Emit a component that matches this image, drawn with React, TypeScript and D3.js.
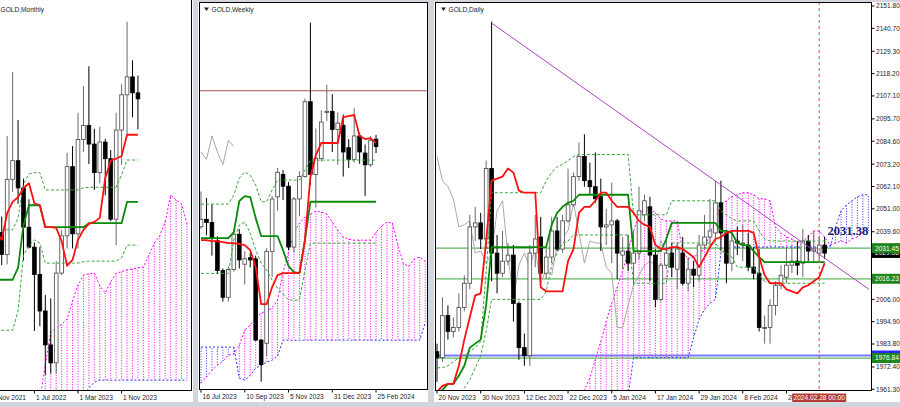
import React, { useEffect, useRef } from "react";
import * as d3 from "d3";

// ================= MONTHLY (bar 0 = Dec 2021) =================
const monthlyOHLC: number[][] = [
  [1774, 1831, 1753, 1829], [1829, 1853, 1780, 1796], [1796, 1974, 1781, 1909], [1909, 2070, 1890, 1937],
  [1937, 1998, 1872, 1896], [1896, 1910, 1787, 1837], [1837, 1879, 1805, 1807], [1807, 1814, 1681, 1766],
  [1766, 1807, 1688, 1711], [1711, 1735, 1615, 1660], [1660, 1730, 1617, 1633], [1633, 1786, 1617, 1768],
  [1768, 1833, 1765, 1824], [1824, 1949, 1805, 1928], [1928, 1959, 1805, 1827], [1827, 2009, 1805, 1969],
  [1969, 2049, 1950, 1990], [1990, 2079, 1932, 1962], [1962, 1985, 1893, 1919], [1919, 1988, 1903, 1965],
  [1965, 1970, 1885, 1940], [1940, 1953, 1846, 1849], [1849, 2009, 1810, 1983], [1983, 2052, 1931, 2036],
  [2036, 2146, 1973, 2063], [2063, 2088, 2002, 2039], [2039, 2065, 1984, 2030],
];
const monthlyTenkan = [1830, 1818, 1858, 1875, 1882, 1896, 1903, 1873, 1870, 1837, 1837, 1836, 1816, 1779,
  1788, 1818, 1833, 1842, 1845, 1851, 1911, 1937, 1940, 1944, 1976, 1976, 1976];
const monthlyKijun = [1758, 1758, 1758, 1758, 1776, 1840, 1870, 1870, 1870, 1837, 1837, 1837, 1837, 1837,
  1837, 1837, 1837, 1843, 1843, 1843, 1843, 1843, 1843, 1843, 1875, 1875, 1875];
const monthlyBandUp = [1833, 1833, 1833, 1833, 1851, 1902, 1917, 1919, 1919, 1893, 1893, 1893, 1893, 1893,
  1893, 1893, 1896, 1897, 1897, 1897, 1897, 1897, 1897, 1916, 1938, 1938, 1938];
const monthlyBandDown = [1682, 1682, 1682, 1682, 1711, 1795, 1809, 1818, 1813, 1783, 1783, 1783, 1783, 1783,
  1783, 1783, 1785, 1786, 1786, 1786, 1786, 1786, 1786, 1791, 1810, 1810, 1810];
const monthlyCloudStart = 8;
const monthlySpanA = [1577, 1630, 1679, 1685, 1691, 1699, 1726, 1750, 1765, 1767, 1768, 1749, 1738, 1755,
  1768, 1770, 1773, 1774, 1776, 1777, 1795, 1813, 1824, 1845, 1885, 1878, 1872, 1842];
const monthlySpanB = [1560, 1562, 1565, 1568, 1570, 1573, 1576, 1580, 1585, 1595, 1604, 1607, 1607, 1607,
  1607, 1607, 1607, 1607, 1607, 1607, 1607, 1607, 1607, 1607, 1607, 1607, 1607, 1607];
const monthlyTickBars = [-1, 7, 15, 23];
const monthlyTickLabels = ["1 Nov 2021", "1 Jul 2022", "1 Mar 2023", "1 Nov 2023"];

// ================= WEEKLY (bar 0 = 16 Jul 2023) =================
const weeklyOHLC: number[][] = [
  [1955, 1988, 1953, 1962], [1962, 1982, 1947, 1959], [1959, 1976, 1928, 1944], [1942, 1946, 1911, 1914],
  [1914, 1916, 1885, 1889], [1889, 1918, 1885, 1915], [1915, 1953, 1913, 1948], [1948, 1953, 1916, 1924],
  [1920, 1932, 1901, 1925], [1926, 1931, 1917, 1924], [1925, 1928, 1848, 1849], [1849, 1850, 1810, 1826],
  [1846, 1935, 1834, 1932], [1932, 1984, 1908, 1981], [1983, 2010, 1970, 2006], [2004, 2008, 1980, 1993],
  [1993, 1997, 1933, 1936], [1936, 1983, 1931, 1981], [1981, 2007, 1965, 2002], [2002, 2075, 2001, 2072],
  [2072, 2146, 1994, 2004], [2004, 2047, 1973, 2019], [2019, 2064, 2016, 2053], [2062, 2088, 2054, 2063],
  [2063, 2079, 2025, 2046], [2046, 2062, 2013, 2052], [2050, 2060, 2002, 2025], [2029, 2037, 2010, 2018],
  [2018, 2066, 2015, 2040], [2040, 2043, 2014, 2025], [2024, 2032, 1984, 2013], [2013, 2040, 2011, 2036],
  [2037, 2041, 2024, 2030],
];
const weeklyTenkan = [1942.5, 1942.5, 1941.6, 1941.6, 1940.7, 1939.7, 1939.7, 1938.8, 1937.9, 1933.2, 1917.3,
  1882.6, 1882.6, 1898.5, 1909.8, 1911.6, 1911.6, 1911.6, 1911.6, 1942.5, 2001.5, 2022.1, 2033.4, 2033.4,
  2033.4, 2033.4, 2057.7, 2058.6, 2059.6, 2039.9, 2037.1, 2038, 2033.4];
const weeklyKijun = [1944.4, 1944.4, 1944.4, 1944.4, 1944.4, 1944.4, 1950, 1979.1, 1983.7, 1982.8, 1963.1,
  1946.3, 1946.3, 1946.3, 1946.3, 1933.2, 1918.2, 1912.6, 1911.6, 1942.5, 1978.4, 1978.4, 1978.4, 1978.4,
  1978.4, 1978.4, 1978.4, 1978.4, 1978.4, 1978.4, 1978.4, 1978.4, 1978.4];
const weeklyBandUp = [1976.2, 1976.2, 1976.2, 1976.2, 1976.2, 1976.2, 1984.7, 2000.6, 2006.2, 2003.4, 1994,
  1978.4, 1978.4, 1989.4, 1998.7, 1998.7, 1998.7, 1998.7, 1998.7, 2008.1, 2017.4, 2017.4, 2017.4, 2017.4,
  2017.4, 2017.4, 2017.4, 2017.4, 2017.4, 2017.4, 2017.4, 2017.4, 2017.4];
const weeklyBandDown = [1911.4, 1911.4, 1911.4, 1911.4, 1911.4, 1911.4, 1942.5, 1956.6, 1959.4, 1949.1, 1933.2,
  1921, 1914.5, 1905.1, 1897.6, 1892, 1886.4, 1886.4, 1886.4, 1914.5, 1939.7, 1939.7, 1939.7, 1939.7,
  1939.7, 1939.7, 1939.7, 1939.7, 1939.7, 1939.7, 1939.7, 1939.7, 1939.7];
const weeklyCloudStart = 0;
const weeklySpanA = [1808.6, 1814.3, 1820.8, 1825.5, 1829.2, 1834.9, 1835.8, 1844.2, 1858.3, 1863, 1869.5,
  1874.2, 1876.1, 1878.9, 1886.4, 1912.6, 1931.3, 1949.1, 1958.5, 1964.1, 1966.9, 1969.7, 1968.8, 1966.9,
  1959.4, 1951.9, 1945.3, 1943.5, 1942.5, 1942.5, 1942.5, 1942.5, 1950, 1955.6, 1959.4, 1958.5, 1937.9,
  1920.1, 1918.2, 1924.8, 1926.6, 1922.9];
const weeklySpanB = [1842.4, 1842.4, 1842.4, 1842.4, 1842.4, 1842.4, 1842.4, 1813.3, 1811.5, 1816.1, 1822.7,
  1825.5, 1828.3, 1830.2, 1833.9, 1848.9, 1848.9, 1848.9, 1848.9, 1848.9, 1848.9, 1848.9, 1848.9, 1848.9,
  1848.9, 1848.9, 1848.9, 1848.9, 1848.9, 1848.9, 1848.9, 1848.9, 1848.9, 1848.9, 1848.9, 1848.9, 1848.9,
  1848.9, 1848.9, 1848.9, 1848.9, 1865.8];
const weeklyLevels = [2082.3];
const weeklyTickBars = [0, 8, 16, 24, 32];
const weeklyTickLabels = ["16 Jul 2023", "10 Sep 2023", "5 Nov 2023", "31 Dec 2023", "25 Feb 2024"];

// ================= DAILY (bar 0 = 20 Nov 2023) =================
const dailyOHLC: number[][] = [
  [1980, 1984, 1965, 1977], [1977, 2007, 1975, 1998], [1998, 2003, 1986, 1990], [1990, 1997, 1987, 1992],
  [1992, 2009, 1990, 2002], [2002, 2018, 2000, 2014], [2014, 2048, 2011, 2042], [2042, 2052, 2035, 2044],
  [2044, 2049, 2031, 2036], [2036, 2075, 2031, 2071], [2071, 2144, 2015, 2029], [2029, 2038, 2009, 2019],
  [2019, 2040, 2017, 2025], [2025, 2034, 2023, 2028], [2028, 2033, 1995, 2004], [2004, 2005, 1976, 1982],
  [1982, 1989, 1973, 1978], [1978, 2033, 1973, 2029], [2029, 2048, 2022, 2036], [2037, 2047, 2016, 2019],
  [2019, 2031, 2016, 2027], [2027, 2047, 2024, 2040], [2040, 2047, 2030, 2031], [2031, 2048, 2029, 2045],
  [2045, 2071, 2044, 2053], [2053, 2069, 2052, 2067], [2067, 2084, 2065, 2077], [2077, 2088, 2062, 2065],
  [2065, 2074, 2058, 2062], [2062, 2079, 2054, 2056], [2057, 2066, 2030, 2042], [2042, 2051, 2033, 2043],
  [2043, 2064, 2024, 2045], [2045, 2046, 2016, 2029], [2028, 2037, 2021, 2030], [2030, 2038, 2020, 2024],
  [2024, 2040, 2013, 2029], [2029, 2062, 2026, 2050], [2048, 2058, 2045, 2055], [2052, 2057, 2015, 2028],
  [2028, 2031, 2002, 2006], [2006, 2024, 2005, 2023], [2023, 2037, 2021, 2029], [2029, 2034, 2017, 2022],
  [2021, 2034, 2011, 2031], [2029, 2037, 2013, 2014], [2014, 2027, 2010, 2021], [2021, 2025, 2012, 2018],
  [2018, 2038, 2015, 2033], [2033, 2048, 2031, 2037], [2037, 2056, 2032, 2040], [2039, 2065, 2035, 2054],
  [2054, 2065, 2030, 2039], [2039, 2040, 2014, 2024], [2024, 2039, 2020, 2035], [2035, 2042, 2028, 2034],
  [2034, 2043, 2025, 2034], [2033, 2039, 2020, 2022], [2022, 2032, 2016, 2019], [2019, 2031, 1990, 1992],
  [1992, 1998, 1984, 1992], [1992, 2006, 1984, 2003], [2003, 2015, 1998, 2013], [2013, 2023, 2011, 2018],
  [2017, 2032, 2014, 2023], [2023, 2033, 2019, 2025], [2025, 2035, 2018, 2023], [2024, 2041, 2017, 2035],
  [2035, 2038, 2025, 2030], [2030, 2040, 2024, 2031], [2029, 2037, 2025, 2033], [2033, 2037, 2026, 2029],
];
const dailyTenkan = [1960, 1963, 1964, 1964, 1973, 1986, 1997, 2008, 2009, 2035, 2065, 2066, 2067, 2071, 2069,
  2060, 2059, 2059, 2059, 2012, 2010, 2010, 2010, 2010, 2025, 2031, 2049, 2052, 2052, 2055, 2059, 2059, 2055,
  2052, 2052, 2052, 2049, 2045, 2043, 2042, 2033, 2031, 2031, 2032, 2032, 2031, 2029, 2027, 2022, 2027, 2032,
  2036, 2037, 2039, 2040, 2040, 2040, 2040, 2039, 2027, 2018, 2014, 2014, 2014, 2011, 2010, 2009, 2012, 2013,
  2015, 2017, 2024];
const dailyKijun = [1958, 1961, 1964, 1964, 1968, 1973, 1982, 1984, 1986, 2003, 2032, 2032, 2032, 2032, 2032,
  2032, 2032, 2032, 2032, 2032, 2032, 2043, 2049, 2052, 2054, 2055, 2058, 2058, 2058, 2058, 2058, 2058, 2058,
  2058, 2058, 2058, 2030, 2030, 2030, 2030, 2030, 2030, 2036, 2044, 2044, 2044, 2044, 2044, 2044, 2044, 2044,
  2044, 2040, 2040, 2039, 2034, 2033, 2033, 2030, 2027, 2024.5, 2024.5, 2024.5, 2024.5, 2024.5, 2024.5,
  2024.5, 2024.5, 2024.5, 2024.5, 2024.5, 2024.5];
const dailyBandUp = [1972, 1972, 1973, 1975, 1977, 1978, 1980, 1982, 1985, 2020, 2059, 2059, 2059, 2059, 2059,
  2059, 2059, 2059, 2059, 2059, 2065, 2069, 2072, 2073, 2075, 2077, 2078, 2078, 2078, 2078, 2078, 2078, 2078,
  2078, 2078, 2078, 2048, 2048, 2048, 2048, 2048, 2048, 2048, 2055, 2055, 2055, 2055, 2055, 2055, 2055, 2055,
  2055, 2050, 2048, 2046, 2045, 2045, 2045, 2045, 2040, 2036, 2035, 2035, 2035, 2035, 2035, 2035, 2035, 2035,
  2035, 2035, 2035];
const dailyBandDown = [1944, 1946, 1950, 1954, 1958, 1962, 1966, 1972, 1978, 1990, 2006, 2006, 2006, 2006, 2006,
  2006, 2006, 2006, 2006, 2006, 2010, 2023, 2029, 2034, 2035, 2038, 2038, 2038, 2038, 2038, 2038, 2038, 2038,
  2038, 2038, 2038, 2014, 2014, 2014, 2014, 2014, 2014, 2014, 2034, 2034, 2034, 2034, 2034, 2034, 2034, 2034,
  2034, 2030, 2029, 2027, 2022, 2022, 2022, 2022, 2018, 2015, 2014, 2014, 2014, 2014, 2014, 2014, 2014, 2014,
  2014, 2014, 2014];
const dailyCloudStart = 26;
const dailySpanA = [1955, 1961, 1967, 1976, 1985, 1995, 2004, 2012, 2020, 2030, 2040, 2048, 2052, 2051, 2049,
  2046, 2045, 2045, 2045, 2030, 2026, 2027, 2029, 2031, 2039, 2045, 2053, 2055, 2057, 2058, 2059, 2059, 2058,
  2056, 2056, 2055, 2042, 2039, 2037, 2036, 2034, 2035, 2037, 2040, 2040, 2037, 2033, 2034, 2035, 2034, 2036,
  2037, 2039, 2040];
const dailySpanB = [1930, 1932, 1935, 1938, 1942, 1946, 1950, 1953, 1956, 1958, 1977, 1977, 1977, 1977, 1977,
  1977, 1977, 1977, 1977, 1977, 1977, 1987, 1996, 2001, 2004, 2006, 2029, 2031, 2032, 2032, 2032, 2032, 2032,
  2032, 2032, 2032, 2032, 2032, 2032, 2032, 2032, 2032, 2032, 2032, 2032, 2032, 2032, 2042, 2050, 2053, 2055,
  2057, 2058, 2058];
const dailyTickBars = [0, 8, 16, 24, 32, 40, 48, 56, 64];
const dailyTickLabels = ["20 Nov 2023", "30 Nov 2023", "12 Dec 2023", "22 Dec 2023", "5 Jan 2024",
  "17 Jan 2024", "29 Jan 2024", "8 Feb 2024", "20 Feb 2024"];
const dailyPriceTicks = [2151.8, 2140.7, 2129.3, 2118.2, 2107.1, 2095.7, 2084.6, 2073.2, 2062.1, 2051.0,
  2039.6, 2006.0, 1994.9, 1983.8, 1972.4, 1961.3];
const dailyGreenLevels = [2031.45, 2016.23, 1976.84];
const dailyBlueLevels = [1978.1];
const dailyBid = [2029.08];
const dailyTrendBars = [10, 79.1];
const dailyTrendPrices = [2143.3, 2011];
const dailyMarkerBar = [70];
const dailyMarkerLabel = ["2024.02.28 00:00"];
const dailyNoteText = ["2031.38"];
const dailyNoteAnchor = [71.5, 2037.8];

const MAG = "#ff00ff";
const BLU = "#3030ff";
const FONT = "'Liberation Sans', Arial, sans-serif";

function drawSeries(g: any, vals: number[], start: number, x: any, y: any, stroke: string, w: number, dash?: string) {
  const line = d3.line<number>().x((_, j) => x(start + j)).y((v) => y(v));
  g.append("path").datum(vals).attr("d", line).attr("fill", "none").attr("stroke", stroke)
    .attr("stroke-width", w).attr("stroke-dasharray", dash || null).attr("stroke-linejoin", "round");
}

function drawCloud(g: any, start: number, A: number[], B: number[], x: any, y: any) {
  const data = A.map((a, j) => ({ i: start + j, a, b: B[j] }));
  g.append("g").selectAll("line").data(data).join("line")
    .attr("x1", (d: any) => x(d.i)).attr("x2", (d: any) => x(d.i))
    .attr("y1", (d: any) => y(d.a)).attr("y2", (d: any) => y(d.b))
    .attr("stroke", (d: any) => (d.a >= d.b ? MAG : BLU))
    .attr("stroke-width", 1).attr("stroke-dasharray", "1,1.6");
  drawSeries(g, A, start, x, y, MAG, 1, "2,2");
  drawSeries(g, B, start, x, y, BLU, 1, "2,2");
}

function drawCandles(g: any, ohlc: number[][], x: any, y: any, bw: number) {
  const grp = g.append("g");
  grp.selectAll("line").data(ohlc).join("line")
    .attr("x1", (_: any, i: number) => x(i)).attr("x2", (_: any, i: number) => x(i))
    .attr("y1", (d: number[]) => y(d[1])).attr("y2", (d: number[]) => y(d[2]))
    .attr("stroke", (d: number[]) => (d[3] >= d[0] ? "#6a6a6a" : "#000")).attr("stroke-width", 1);
  grp.selectAll("rect").data(ohlc).join("rect")
    .attr("x", (_: any, i: number) => x(i) - bw / 2)
    .attr("y", (d: number[]) => y(Math.max(d[0], d[3])))
    .attr("width", bw)
    .attr("height", (d: number[]) => Math.max(1, Math.abs(y(d[0]) - y(d[3]))))
    .attr("fill", (d: number[]) => (d[3] >= d[0] ? "#fff" : "#000"))
    .attr("stroke", (d: number[]) => (d[3] >= d[0] ? "#444" : "#000")).attr("stroke-width", 0.8);
}

function drawIchimoku(g: any, p: any, x: any, y: any) {
  drawCloud(g, p.cloudStart, p.spanA, p.spanB, x, y);
  const closes = p.ohlc.map((d: number[]) => d[3]);
  drawSeries(g, closes.slice(26), 0, x, y, "#a8a8a8", 1);
  drawCandles(g, p.ohlc, x, y, 3.7);
  drawSeries(g, p.bandUp, 0, x, y, "#3aa63a", 1, "3,2");
  drawSeries(g, p.bandDown, 0, x, y, "#3aa63a", 1, "3,2");
  drawSeries(g, p.kijun, 0, x, y, "#078a07", 1.8);
  drawSeries(g, p.tenkan, 0, x, y, "#ff1010", 1.8);
}

function header(svg: any, xTri: number, label: string) {
  svg.append("path").attr("d", `M${xTri},7.5 L${xTri + 5},7.5 L${xTri + 2.5},11 Z`).attr("fill", "#222");
  svg.append("text").attr("x", xTri + 7.5).attr("y", 11.6).attr("font-size", 6.6).attr("font-family", FONT)
    .attr("fill", "#1b1b2a").text(label);
}

function timeAxis(svg: any, bars: number[], labels: string[], x: any, yb: number) {
  bars.forEach((b, k) => {
    const xx = x(b);
    svg.append("line").attr("x1", xx).attr("x2", xx).attr("y1", yb).attr("y2", yb + 3).attr("stroke", "#000").attr("stroke-width", 1);
    svg.append("text").attr("x", xx + 1.5).attr("y", yb + 9.3).attr("font-size", 6.6).attr("font-family", FONT)
      .attr("fill", "#1b1b2a").text(labels[k]);
  });
}

function draw(svgEl: SVGSVGElement) {
  const svg = d3.select(svgEl);
  svg.selectAll("*").remove();
  const defs = svg.append("defs");
  svg.append("rect").attr("width", 900).attr("height", 407).attr("fill", "#d2d5db");

  const panel = (id: string, win: number[], plot: number[], x0: number, step: number, dom: number[], rng: number[]) => {
    svg.append("rect").attr("x", win[0]).attr("y", win[1]).attr("width", win[2] - win[0]).attr("height", win[3] - win[1]).attr("fill", "#fff");
    defs.append("clipPath").attr("id", id).append("rect").attr("x", plot[0]).attr("y", plot[1])
      .attr("width", plot[2] - plot[0]).attr("height", plot[3] - plot[1]);
    const g = svg.append("g").attr("clip-path", `url(#${id})`);
    const x = d3.scaleLinear().domain([0, 1]).range([x0, x0 + step]);
    const y = d3.scaleLinear().domain(dom).range(rng);
    return { g, x, y };
  };
  const border = (plot: number[]) =>
    svg.append("rect").attr("x", plot[0]).attr("y", plot[1]).attr("width", plot[2] - plot[0]).attr("height", plot[3] - plot[1])
      .attr("fill", "none").attr("stroke", "#000").attr("stroke-width", 1);

  // ---------- Monthly ----------
  const p1plot = [-2, -2, 191.5, 390.5];
  const M = panel("clipM", [0, 0, 193, 402], p1plot, -3.75, 5.45, [1593.7, 2174.1], [389, 3]);
  drawIchimoku(M.g, { cloudStart: monthlyCloudStart, spanA: monthlySpanA, spanB: monthlySpanB, ohlc: monthlyOHLC,
    bandUp: monthlyBandUp, bandDown: monthlyBandDown, kijun: monthlyKijun, tenkan: monthlyTenkan }, M.x, M.y);
  border(p1plot);
  header(svg, -7, "GOLD,Monthly");
  timeAxis(svg, monthlyTickBars, monthlyTickLabels, M.x, 390.5);

  // ---------- Weekly ----------
  const p2plot = [199.5, 2.5, 427.5, 389.5];
  const Wk = panel("clipW", [198, 2, 428, 402], p2plot, 201, 5.47, [1803.2, 2164.4], [389, 3]);
  weeklyLevels.forEach((lv) => {
    Wk.g.append("line").attr("x1", 199).attr("x2", 428).attr("y1", Wk.y(lv)).attr("y2", Wk.y(lv)).attr("stroke", "#a85050").attr("stroke-width", 1);
  });
  drawIchimoku(Wk.g, { cloudStart: weeklyCloudStart, spanA: weeklySpanA, spanB: weeklySpanB, ohlc: weeklyOHLC,
    bandUp: weeklyBandUp, bandDown: weeklyBandDown, kijun: weeklyKijun, tenkan: weeklyTenkan }, Wk.x, Wk.y);
  border(p2plot);
  header(svg, 204, "GOLD,Weekly");
  timeAxis(svg, weeklyTickBars, weeklyTickLabels, Wk.x, 389.5);

  // ---------- Daily ----------
  const p3plot = [435.5, 2.5, 871.5, 390.5];
  const D = panel("clipD", [434, 2, 900, 402], p3plot, 437, 5.46, [1961.3, 2151.8], [389.3, 6]);
  const hl = (lv: number, color: string, w: number) =>
    D.g.append("line").attr("x1", 435).attr("x2", 872).attr("y1", D.y(lv)).attr("y2", D.y(lv)).attr("stroke", color).attr("stroke-width", w);
  dailyGreenLevels.forEach((lv) => hl(lv, "#5cb85c", 1.3));
  dailyBlueLevels.forEach((lv) => hl(lv, "#7a7aff", 2));
  drawIchimoku(D.g, { cloudStart: dailyCloudStart, spanA: dailySpanA, spanB: dailySpanB, ohlc: dailyOHLC,
    bandUp: dailyBandUp, bandDown: dailyBandDown, kijun: dailyKijun, tenkan: dailyTenkan }, D.x, D.y);
  const trend = d3.line<number>().x((_, k) => D.x(dailyTrendBars[k])).y((v) => D.y(v));
  D.g.append("path").datum(dailyTrendPrices).attr("d", trend).attr("stroke", "#b040c8").attr("stroke-width", 1).attr("fill", "none");
  dailyMarkerBar.forEach((b) => {
    D.g.append("line").attr("x1", D.x(b)).attr("x2", D.x(b)).attr("y1", 2).attr("y2", 391).attr("stroke", "#e05050")
      .attr("stroke-width", 1).attr("stroke-dasharray", "3,3");
  });
  D.g.append("text").attr("x", D.x(dailyNoteAnchor[0])).attr("y", D.y(dailyNoteAnchor[1]))
    .attr("font-family", "'Liberation Serif', 'Times New Roman', serif").attr("font-weight", "bold")
    .attr("font-size", 12.6).attr("fill", "#1c1c72").text(dailyNoteText[0]);
  border(p3plot);
  header(svg, 441, "GOLD,Daily");
  timeAxis(svg, dailyTickBars, dailyTickLabels, D.x, 390.5);

  // price axis
  dailyPriceTicks.forEach((p) => {
    const yy = D.y(p);
    svg.append("line").attr("x1", 871.5).attr("x2", 874.5).attr("y1", yy).attr("y2", yy).attr("stroke", "#000");
    svg.append("text").attr("x", 876).attr("y", yy + 2.4).attr("font-size", 6.6).attr("font-family", FONT)
      .attr("fill", "#1b1b2a").text(p.toFixed(2));
  });
  const box = (p: number, fill: string, withText: boolean) => {
    const yy = D.y(p);
    svg.append("rect").attr("x", 872).attr("y", yy - 5).attr("width", 28).attr("height", 10).attr("fill", fill);
    if (withText) {
      svg.append("text").attr("x", 875).attr("y", yy + 2.4).attr("font-size", 6.6).attr("font-family", FONT)
        .attr("fill", "#fff").text(p.toFixed(2));
    }
  };
  dailyBlueLevels.forEach((p) => box(p, "#2a2aff", false));
  dailyBid.forEach((p) => box(p, "#000", true));
  dailyGreenLevels.forEach((p) => box(p, "#1f861f", true));

  dailyMarkerBar.forEach((b, k) => {
    const xx = D.x(b);
    svg.append("rect").attr("x", xx - 27).attr("y", 393.5).attr("width", 54).attr("height", 8.5).attr("fill", "#b53a3a");
    svg.append("text").attr("x", xx).attr("y", 400.3).attr("text-anchor", "middle").attr("font-size", 6.6)
      .attr("font-family", FONT).attr("fill", "#fff").text(dailyMarkerLabel[k]);
  });
}

export default function App() {
  const ref = useRef<SVGSVGElement | null>(null);
  useEffect(() => {
    if (ref.current) draw(ref.current);
  }, []);
  return (
    <svg ref={ref} width={900} height={407} viewBox="0 0 900 407"
      style={{ position: "fixed", left: 0, top: 0, display: "block" }} />
  );
}
